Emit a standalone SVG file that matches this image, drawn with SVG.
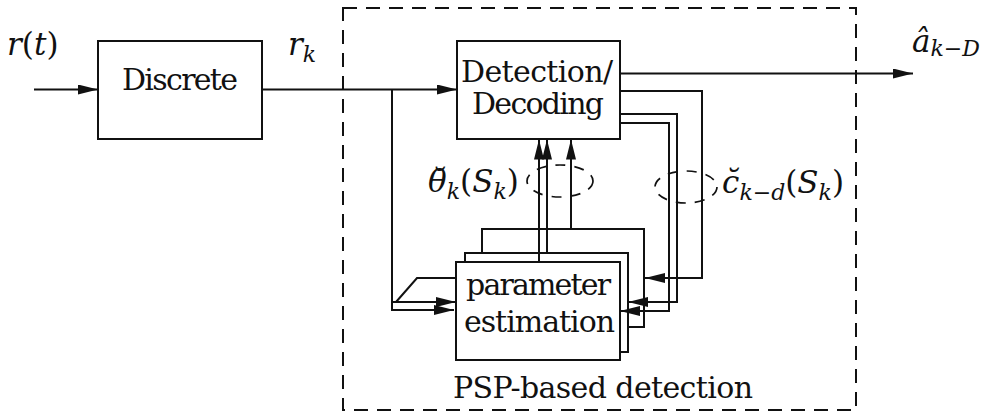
<svg xmlns="http://www.w3.org/2000/svg" width="988" height="420" viewBox="0 0 988 420" font-family="'DejaVu Serif', serif">
  <style>
    text { font-family: 'DejaVu Serif', serif; fill: #111; font-size: 30px; }
    .math { font-size: 31px; }
    .it { font-style: italic; }
    .sub { font-size: 22px; font-style: italic; }
    .box { fill: #fff; stroke: #111; stroke-width: 2; }
    .wire { fill: none; stroke: #111; stroke-width: 2; }
    .arr { marker-end: url(#ah); }
    .frame { fill: none; stroke: #111; stroke-width: 2; stroke-dasharray: 14 9; }
    .brace { fill: none; stroke: #111; stroke-width: 1.7; stroke-dasharray: 10 9; }
  </style>
  <defs>
    <marker id="ah" markerUnits="userSpaceOnUse" markerWidth="20" markerHeight="10" refX="20" refY="5" orient="auto">
      <path d="M0,0 L20,5 L0,10 z" fill="#111"/>
    </marker>
  </defs>

  <rect width="988" height="420" fill="#fff"/>

  <!-- PSP-based detection frame -->
  <g id="psp">
    <rect class="frame" x="343" y="8" width="513" height="402"/>
    <text x="603" y="398" text-anchor="middle" textLength="300">PSP-based detection</text>
  </g>

  <!-- discretizer -->
  <g id="discrete">
    <rect class="box" x="98" y="41" width="164" height="98"/>
    <text x="180" y="90" text-anchor="middle" textLength="116">Discrete</text>
  </g>

  <!-- detector / decoder -->
  <g id="detector">
    <rect class="box" x="457" y="41" width="163" height="98"/>
    <text x="461" y="82" textLength="152">Detection/</text>
    <text x="472" y="114" textLength="132">Decoding</text>
  </g>

  <!-- bank of parameter estimators (stacked) -->
  <g id="estimators">
    <rect class="box" x="482" y="229" width="162" height="98"/>
    <rect class="box" x="465" y="253" width="163" height="99"/>
    <rect class="box" x="456" y="262" width="164" height="98"/>
    <text x="466" y="295" textLength="145">parameter</text>
    <text x="464" y="332" textLength="151">estimation</text>
  </g>

  <!-- signal labels -->
  <g id="labels">
    <text class="math" x="7" y="55"><tspan class="it">r</tspan>(<tspan class="it">t</tspan>)</text>
    <text class="math" x="288" y="55"><tspan class="it">r</tspan><tspan class="sub" dy="7">k</tspan></text>
    <text class="math" x="912" y="52"><tspan class="it">â</tspan><tspan class="sub" dy="4">k−D</tspan></text>
    <text class="math" x="428" y="192"><tspan class="it">θ̆</tspan><tspan class="sub" dy="7">k</tspan><tspan dy="-7">(</tspan><tspan class="it">S</tspan><tspan class="sub" dy="7">k</tspan><tspan dy="-7">)</tspan></text>
    <text class="math" x="722" y="193"><tspan class="it">c̆</tspan><tspan class="sub" dy="7">k−d</tspan><tspan dy="-7">(</tspan><tspan class="it">S</tspan><tspan class="sub" dy="7">k</tspan><tspan dy="-7">)</tspan></text>
  </g>

  <!-- connectors -->
  <g id="connectors">
    <path class="wire arr" d="M34,89.5 H98"/>
    <path class="wire arr" d="M262,89.5 H457"/>
    <path class="wire arr" d="M392,89.5 V310 H454"/>
    <path class="wire arr" d="M392,302 H456"/>
    <path class="wire" d="M396,302 L417,278 H456"/>
    <path class="wire arr" d="M620,73.5 H913"/>
    <path class="wire arr" d="M620,91 H702 V278 H645"/>
    <path class="wire arr" d="M620,114 H677 V302 H628"/>
    <path class="wire arr" d="M620,123 H669 V311 H620"/>
    <path class="wire arr" d="M539,262 V139.5"/>
    <path class="wire arr" d="M547,253 V139.5"/>
    <path class="wire arr" d="M571,229 V139.5"/>
  </g>

  <!-- grouping marks around the per-state signals -->
  <g id="groupings">
    <ellipse class="brace" cx="560" cy="181" rx="33" ry="16"/>
    <ellipse class="brace" cx="686" cy="187" rx="31" ry="16"/>
  </g>
</svg>
